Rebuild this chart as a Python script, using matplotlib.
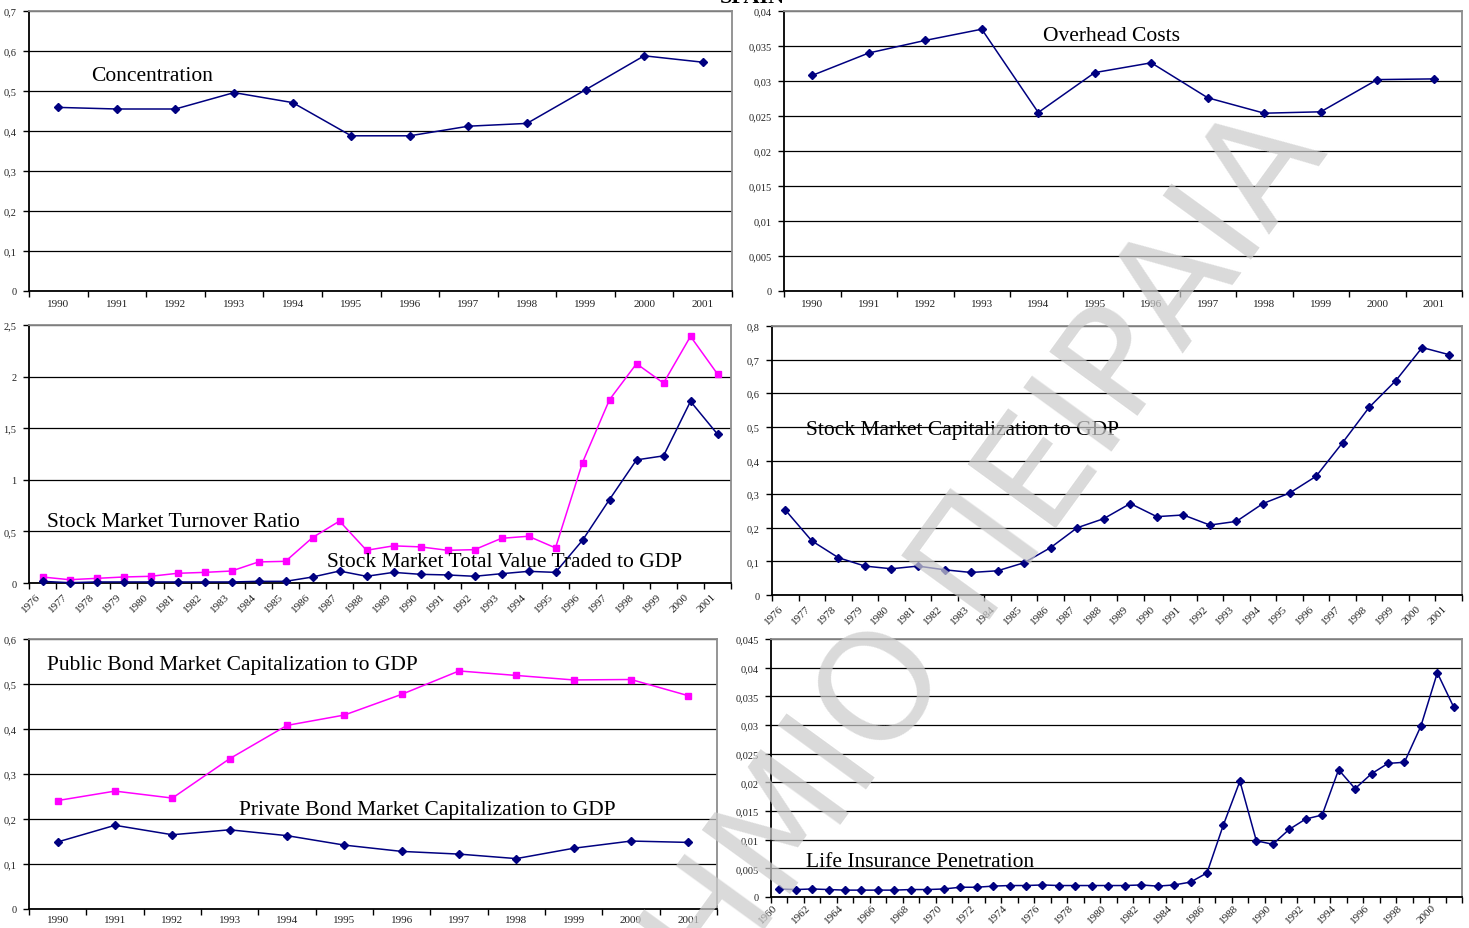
import matplotlib
matplotlib.use("Agg")
import matplotlib.pyplot as plt
import matplotlib.transforms as mtransforms
import numpy as np

W, H = 1469, 929
NAVY = "#000080"
MAGENTA = "#FF00FF"
SERIF = "Liberation Serif"

# ---- categories -------------------------------------------------------
years_90 = ["1990", "1991", "1992", "1993", "1994", "1995", "1996", "1997",
            "1998", "1999", "2000", "2001"]
years_76 = [str(y) for y in range(1976, 2002)]
years_60 = [str(y) for y in range(1960, 2002)]

# ---- series -----------------------------------------------------------
concentration = [0.459, 0.455, 0.455, 0.496, 0.471, 0.388, 0.388, 0.412,
                 0.419, 0.503, 0.588, 0.572]
overhead_costs = [0.0308, 0.0340, 0.0358, 0.0374, 0.0255, 0.0312, 0.0326,
                  0.0276, 0.0254, 0.0256, 0.0302, 0.0303]

turnover_ratio = [0.058, 0.032, 0.045, 0.058, 0.065, 0.094, 0.103, 0.116,
                  0.204, 0.210, 0.44, 0.60, 0.317, 0.36, 0.35, 0.317,
                  0.323, 0.433, 0.453, 0.34, 1.167, 1.776, 2.125, 1.937,
                  2.39, 2.025]
value_traded = [0.016, 0.003, 0.010, 0.010, 0.010, 0.010, 0.010, 0.010,
                0.016, 0.016, 0.058, 0.116, 0.065, 0.103, 0.084, 0.078,
                0.065, 0.090, 0.113, 0.103, 0.414, 0.809, 1.193, 1.232,
                1.760, 1.442]

stock_cap = [0.253, 0.161, 0.111, 0.086, 0.078, 0.086, 0.075, 0.067, 0.072,
             0.096, 0.141, 0.200, 0.227, 0.272, 0.233, 0.238, 0.208, 0.219,
             0.272, 0.303, 0.353, 0.453, 0.558, 0.637, 0.736, 0.715]

public_bond = [0.241, 0.262, 0.2465, 0.334, 0.408, 0.431, 0.477, 0.529,
               0.519, 0.509, 0.510, 0.474]
private_bond = [0.149, 0.186, 0.165, 0.176, 0.163, 0.142, 0.128, 0.122,
                0.112, 0.135, 0.151, 0.148]

life_insurance = [0.0014, 0.0013, 0.0014, 0.0013, 0.0012, 0.0012, 0.0012,
                  0.0012, 0.0013, 0.0013, 0.0014, 0.0017, 0.0017, 0.0019,
                  0.0020, 0.0020, 0.0021, 0.0020, 0.0020, 0.0020, 0.0020,
                  0.0020, 0.0021, 0.0019, 0.0021, 0.0026, 0.0042, 0.0126,
                  0.0202, 0.0098, 0.0092, 0.0118, 0.0136, 0.0143, 0.0222,
                  0.0189, 0.0215, 0.0233, 0.0235, 0.0298, 0.0391, 0.0331]

# ---- value axes -------------------------------------------------------
conc_ticks = [0, 0.1, 0.2, 0.3, 0.4, 0.5, 0.6, 0.7]
overhead_ticks = [0, 0.005, 0.01, 0.015, 0.02, 0.025, 0.03, 0.035, 0.04]
turnover_ticks = [0, 0.5, 1, 1.5, 2, 2.5]
cap_ticks = [0, 0.1, 0.2, 0.3, 0.4, 0.5, 0.6, 0.7, 0.8]
bond_ticks = [0, 0.1, 0.2, 0.3, 0.4, 0.5, 0.6]
life_ticks = [0, 0.005, 0.01, 0.015, 0.02, 0.025, 0.03, 0.035, 0.04, 0.045]


def comma(v):
    return f"{v:g}".replace(".", ",")


fig = plt.figure(figsize=(W / 100, H / 100), dpi=100)


def box(left, top, right, bottom):
    return [left / W, 1 - bottom / H, (right - left) / W, (bottom - top) / H]


def setup(ax, cats, yticks, every=1, rotate=False, xpad=6):
    n = len(cats)
    centers = np.arange(n) + 0.5
    ax.set_xlim(0, n)
    ax.set_ylim(yticks[0], yticks[-1])
    ax.set_xticks(np.arange(n + 1))
    ax.set_xticklabels([])
    ax.tick_params(axis="x", which="major", length=4, width=1,
                   direction="out", color="black")
    ax.set_xticks(centers[::every], minor=True)
    if rotate:
        labs = ax.set_xticklabels(cats[::every], minor=True, rotation=45,
                                  ha="right", fontsize=8, family=SERIF,
                                  color="#222222")
        off = mtransforms.ScaledTranslation(-7 / 100, 0, fig.dpi_scale_trans)
        for t in labs:
            t.set_transform(t.get_transform() + off)
    else:
        ax.set_xticklabels(cats[::every], minor=True, fontsize=8,
                           family=SERIF, color="#222222")
    ax.tick_params(axis="x", which="minor", length=0, pad=xpad)
    ax.set_yticks(yticks)
    ax.set_yticklabels([comma(v) for v in yticks], fontsize=7.5,
                       family=SERIF, color="#222222")
    ax.tick_params(axis="y", length=4, width=1, direction="out", pad=5)
    ax.grid(axis="y", color="black", linewidth=0.9)
    ax.set_axisbelow(True)
    for s in ("left", "bottom"):
        ax.spines[s].set_color("black")
        ax.spines[s].set_linewidth(1.3)
    for s in ("top", "right"):
        ax.spines[s].set_color("#8c8c8c")
        ax.spines[s].set_linewidth(1.3)
    return centers


def navy(ax, x, y):
    ax.plot(x, y, color=NAVY, lw=1.1, marker="D", ms=4.5, mec=NAVY,
            mfc=NAVY, clip_on=False, zorder=4)


def pink(ax, x, y):
    ax.plot(x, y, color=MAGENTA, lw=1.1, marker="s", ms=5, mec=MAGENTA,
            mfc=MAGENTA, clip_on=False, zorder=3)


def label(ax, x, y, s):
    ax.text(x, y, s, transform=ax.transAxes, fontsize=15.5, family=SERIF,
            ha="left", va="center", color="black", zorder=5)


# Concentration
ax1 = fig.add_axes(box(29, 12, 732, 292))
c = setup(ax1, years_90, conc_ticks)
navy(ax1, c, concentration)
label(ax1, 0.088, 0.771, "Concentration")

# Overhead costs
ax2 = fig.add_axes(box(784, 12, 1462, 292))
c = setup(ax2, years_90, overhead_ticks)
navy(ax2, c, overhead_costs)
label(ax2, 0.382, 0.911, "Overhead Costs")

# Turnover and value traded
ax3 = fig.add_axes(box(29, 326, 731, 584))
c = setup(ax3, years_76, turnover_ticks, rotate=True)
pink(ax3, c, turnover_ratio)
navy(ax3, c, value_traded)
label(ax3, 0.0256, 0.240, "Stock Market Turnover Ratio")
label(ax3, 0.4245, 0.085, "Stock Market Total Value Traded to GDP")

# Stock market capitalization
ax4 = fig.add_axes(box(772, 327, 1462, 596))
c = setup(ax4, years_76, cap_ticks, rotate=True)
navy(ax4, c, stock_cap)
label(ax4, 0.049, 0.617, "Stock Market Capitalization to GDP")

# Bond markets
ax5 = fig.add_axes(box(29, 640, 717, 910))
c = setup(ax5, years_90, bond_ticks, xpad=4)
pink(ax5, c, public_bond)
navy(ax5, c, private_bond)
label(ax5, 0.026, 0.904, "Public Bond Market Capitalization to GDP")
label(ax5, 0.305, 0.367, "Private Bond Market Capitalization to GDP")

# Life insurance
ax6 = fig.add_axes(box(771, 640, 1462, 898))
c = setup(ax6, years_60, life_ticks, every=2, rotate=True, xpad=4)
navy(ax6, c, life_insurance)
label(ax6, 0.0507, 0.136, "Life Insurance Penetration")

# Page heading, mostly above the sheet edge
fig.text(752 / W, 1 - 3 / H, "SPAIN", ha="center", va="baseline",
         fontsize=16, family=SERIF, weight="bold", color="black")

# Library watermark across the page
fig.text(1329 / W, 1 - 152 / H, "ΠΑΝΕΠΙΣΤΗΜΙΟ ΠΕΙΡΑΙΑ", rotation=54,
         rotation_mode="anchor", ha="right", va="baseline", fontsize=108,
         family="DejaVu Sans", weight="normal", color="#cccccc", alpha=0.72,
         zorder=10)

fig.savefig("out.png", dpi=100)
